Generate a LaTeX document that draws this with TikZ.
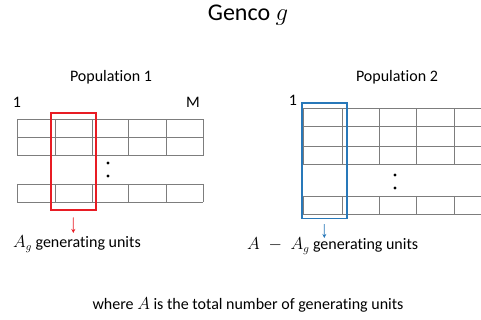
\documentclass[tikz,border=0pt]{standalone}
\usepackage{fontspec}
\setmainfont{Carlito}[Ligatures=NoCommon]
\usetikzlibrary{arrows.meta}
\definecolor{gridgray}{RGB}{125,125,125}
\definecolor{boxred}{RGB}{232,28,36}
\definecolor{boxblue}{RGB}{40,120,185}
\tikzset{
  gridline/.style={draw=gridgray, line width=0.9pt},
  lbl/.style={inner sep=0pt, font=\fontsize{16}{18}\selectfont},
  redbox/.style={draw=boxred, line width=1.6pt, inner sep=0pt},
  bluebox/.style={draw=boxblue, line width=1.6pt, inner sep=0pt},
  redarrow/.style={draw=boxred, line width=0.9pt, -{Stealth[length=4pt,width=4pt]}},
  bluearrow/.style={draw=boxblue, line width=0.9pt, -{Stealth[length=4pt,width=4pt]}},
  dot/.style={circle, fill=black, inner sep=0pt, minimum size=3.2pt}
}
\begin{document}
\begin{tikzpicture}[x=1pt, y=-1pt]
\useasboundingbox (0,0) rectangle (481,320);
% title
\node[inner sep=0pt, font=\fontsize{24}{28}\selectfont] (title) at (248,15) {Genco $g$};
% Population 1
\node[lbl] (pop1) at (111,77) {Population 1};
\node[lbl] (one1) at (17,102) {1};
\node[lbl] (m1) at (193,102) {M};
\foreach \y in {119.3,137.3,155.7} \draw[gridline] (17,\y) -- (203,\y);
\foreach \x in {17,55,92,128,166,203} \draw[gridline] (\x,119.3) -- (\x,155.7);
\foreach \y in {184,202.3} \draw[gridline] (17,\y) -- (203,\y);
\foreach \x in {17,55,92,128,166,203} \draw[gridline] (\x,184) -- (\x,202.3);
\node[dot] (d1a) at (108,163) {};
\node[dot] (d1b) at (108,176) {};
\node[redbox, minimum width=45pt, minimum height=96.4pt] (rb) at (73.2,161.5) {};
\coordinate (re) at (73.3,233);
\draw[redarrow] ([yshift=-7pt]rb.south) -- (re);
\node[lbl, anchor=west] (ag) at (13,244) {$A_g$ generating units};
% Population 2
\node[lbl] (pop2) at (397,77) {Population 2};
\node[lbl] (one2) at (293,100) {1};
\node[lbl] (m2) at (488,95) {M};
\foreach \y in {108.3,126.7,146,164.3} \draw[gridline] (303.3,\y) -- (495,\y);
\foreach \x in {303.3,342.7,379.3,416.7,454,491} \draw[gridline] (\x,108.3) -- (\x,164.3);
\foreach \y in {196,214} \draw[gridline] (303.3,\y) -- (495,\y);
\foreach \x in {303.3,342.7,379.3,416.7,454,491} \draw[gridline] (\x,196) -- (\x,214);
\node[dot] (d2a) at (395,175) {};
\node[dot] (d2b) at (395,188) {};
\node[bluebox, minimum width=45pt, minimum height=115pt] (bb) at (324.2,160.8) {};
\coordinate (be) at (324.3,238);
\draw[bluearrow] ([yshift=-5pt]bb.south) -- (be);
\node[lbl, anchor=west] (aag) at (247,246) {$A\;-\;A_g$ generating units};
% footnote
\node[lbl] (note) at (248,305) {where $A$ is the total number of generating units};
\end{tikzpicture}
\end{document}
